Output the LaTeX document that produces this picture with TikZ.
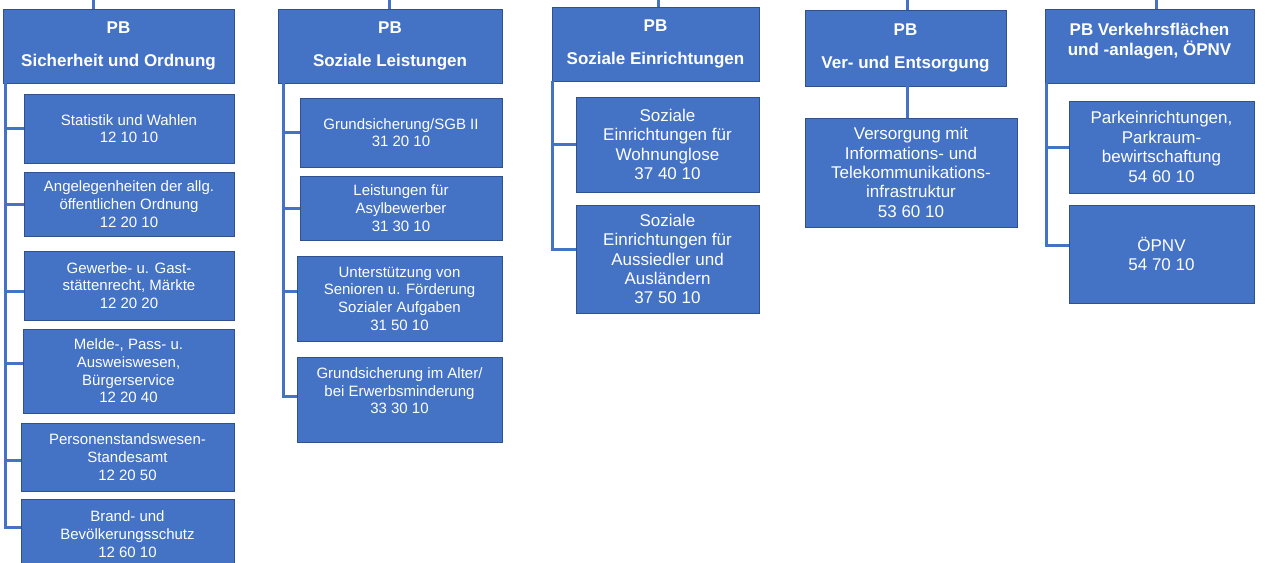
\documentclass[tikz,border=0pt]{standalone}
\usepackage{fontspec}
\setmainfont{Liberation Sans}
\usepackage{tikz}
\definecolor{pbblue}{HTML}{4472C4}
\definecolor{pbedge}{HTML}{2F528F}

\begin{document}
\begin{tikzpicture}[x=1pt,y=-1pt]
  \tikzstyle{every node}=[fill=pbblue,draw=pbedge,line width=0.8pt,shape=rectangle,inner sep=0pt,text=white,align=center]
  \tikzstyle{head}=[font=\fontsize{17}{19.5}\selectfont\bfseries]
  \tikzstyle{unit}=[font=\fontsize{15}{17.7}\selectfont]
  \tikzstyle{bigunit}=[font=\fontsize{17}{19.4}\selectfont]
  \tikzstyle{link}=[draw=pbblue,line width=3pt]
  \useasboundingbox (0,0) rectangle (1265,562);
  \clip (0,0) rectangle (1265,562);
  % Sicherheit und Ordnung
  \path (118.5,46) node[head,minimum width=231pt,minimum height=74pt] (h1) {PB\\[13.5pt]Sicherheit und Ordnung};
\path (129,128.5) node[unit,minimum width=210pt,minimum height=69pt] (c11) {Statistik und Wahlen\\12 10 10};
\path (129,204) node[unit,minimum width=210pt,minimum height=64pt] (c12) {Angelegenheiten der allg.\\öffentlichen Ordnung\\12 20 10};
\path (129,285.5) node[unit,minimum width=210pt,minimum height=69pt] (c13) {Gewerbe- u. Gast-\\stättenrecht, Märkte\\12 20 20};
\path (128.5,371) node[unit,minimum width=211pt,minimum height=84pt] (c14) {Melde-, Pass- u.\\Ausweiswesen,\\Bürgerservice\\12 20 40};
\path (127.5,457) node[unit,minimum width=213pt,minimum height=68pt] (c15) {Personenstandswesen-\\Standesamt\\12 20 50};
\path (127.5,534) node[unit,minimum width=213pt,minimum height=70pt] (c16) {Brand- und\\Bevölkerungsschutz\\12 60 10};
  % Soziale Leistungen
  \path (390,46) node[head,minimum width=224pt,minimum height=74pt] (h2) {PB\\[13.5pt]Soziale Leistungen};
\path (401,132.5) node[unit,minimum width=202pt,minimum height=69pt] (c21) {Grundsicherung/SGB II\\31 20 10};
\path (401,208) node[unit,minimum width=202pt,minimum height=64pt] (c22) {Leistungen für\\Asylbewerber\\31 30 10};
\path (399.5,298.5) node[unit,minimum width=205pt,minimum height=85pt] (c23) {Unterstützung von\\Senioren u. Förderung\\Sozialer Aufgaben\\31 50 10};
\path (399.5,399.5) node[unit,minimum width=205pt,minimum height=85pt] (c24) {Grundsicherung im Alter/\\bei Erwerbsminderung\\33 30 10\\ \mbox{}};
  % Soziale Einrichtungen
  \path (655.5,44) node[head,minimum width=207pt,minimum height=74pt] (h3) {PB\\[13.5pt]Soziale Einrichtungen};
\path (667.5,144.5) node[bigunit,minimum width=183pt,minimum height=95pt] (c31) {Soziale\\Einrichtungen für\\Wohnunglose\\37 40 10};
\path (667.5,259) node[bigunit,minimum width=183pt,minimum height=108pt] (c32) {Soziale\\Einrichtungen für\\Aussiedler und\\Ausländern\\37 50 10};
  % Ver- und Entsorgung
  \path (905.5,48) node[head,minimum width=201pt,minimum height=76pt] (h4) {PB\\[13.5pt]Ver- und Entsorgung};
\path (911,172.5) node[bigunit,minimum width=212pt,minimum height=109pt] (c41) {Versorgung mit\\Informations- und\\Telekommunikations-\\infrastruktur\\53 60 10};
  % Verkehrsflaechen
  \path (1149.5,46) node[head,minimum width=209pt,minimum height=74pt] (h5) {PB Verkehrsflächen\\und -anlagen, ÖPNV\\[-6pt]\mbox{}};
\path (1161.5,147) node[bigunit,minimum width=185pt,minimum height=92pt] (c51) {Parkeinrichtungen,\\Parkraum-\\bewirtschaftung\\54 60 10};
\path (1161.5,254) node[bigunit,minimum width=185pt,minimum height=98pt] (c52) {ÖPNV\\54 70 10};

  \coordinate (t1) at (93,0);
  \coordinate (t2) at (389,0);
  \coordinate (t3) at (658,0);
  \coordinate (t4) at (907,0);
  \coordinate (t5) at (1156,0);
  \coordinate (k1) at (5,0);
  \coordinate (k2) at (283,0);
  \coordinate (k3) at (552,0);
  \coordinate (k5) at (1046,0);
  \coordinate (e13) at ([yshift=-5.5pt]c13.west);
  \coordinate (e14) at ([yshift=8pt]c14.west);
  \coordinate (e15) at ([yshift=-3pt]c15.west);
  \coordinate (e16) at ([yshift=7pt]c16.west);
  \coordinate (e23) at ([yshift=7.5pt]c23.west);
  \coordinate (e24) at ([yshift=3.5pt]c24.west);
  \coordinate (e32) at ([yshift=10pt]c32.west);
  \coordinate (e52) at ([yshift=9pt]c52.west);
  \draw[link] (t1) -- (t1 |- h1.north)
        (t2) -- (t2 |- h2.north)
        (t3) -- (t3 |- h3.north)
 (t4) -- (t4 |- h4.north)
        (t5) -- (t5 |- h5.north)
        (t4 |- h4.south) -- (t4 |- c41.north);
  \draw[link] (k1 |- h1.south) -- (k1 |- e16) -- (e16)
        (k1 |- c11.west) -- (c11.west)
        (k1 |- c12.west) -- (c12.west)
 (k1 |- e13) -- (e13)
        (k1 |- e14) -- (e14)
        (k1 |- e15) -- (e15);
  \draw[link] (k2 |- h2.south) -- (k2 |- e24) -- (e24)
        (k2 |- c21.west) -- (c21.west)
        (k2 |- c22.west) -- (c22.west)
        (k2 |- e23) -- (e23);
  \draw[link] (k3 |- h3.south) -- (k3 |- e32) -- (e32)
        (k3 |- c31.west) -- (c31.west);
  \draw[link] (k5 |- h5.south) -- (k5 |- e52) -- (e52)
        (k5 |- c51.west) -- (c51.west);
\end{tikzpicture}
\end{document}
